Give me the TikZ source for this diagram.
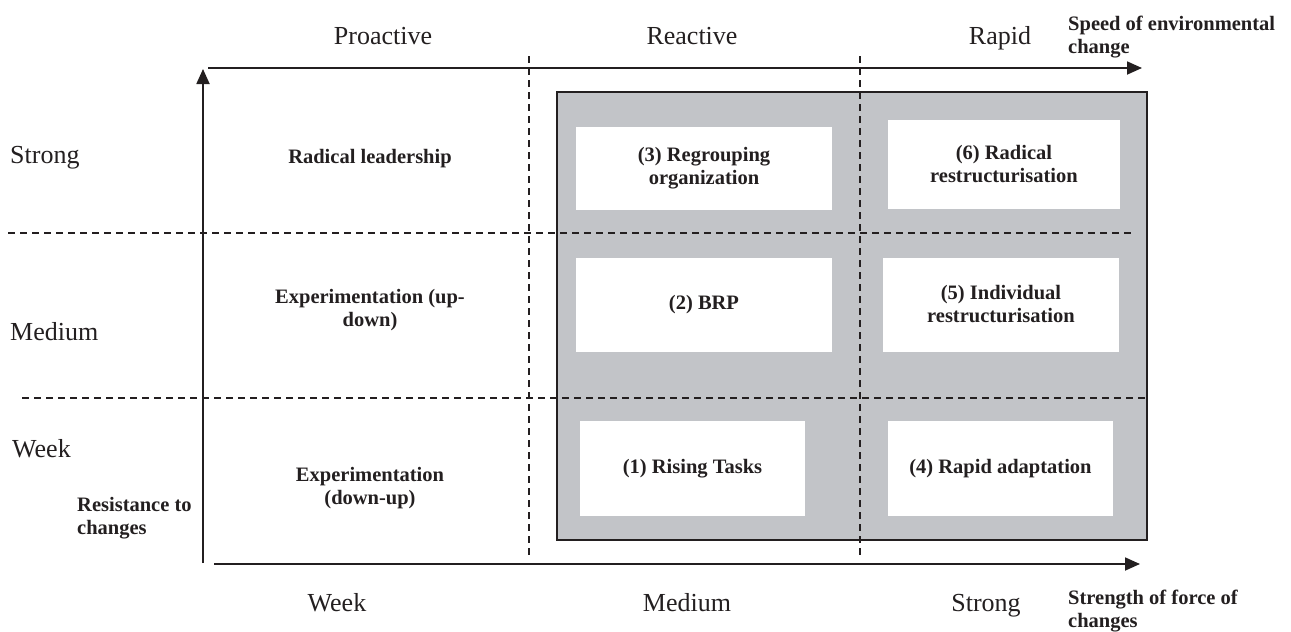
\documentclass[tikz,border=0pt]{standalone}
\usepackage{fontspec}
\setmainfont{Liberation Serif}
\usetikzlibrary{arrows.meta}
\definecolor{panelgray}{RGB}{194,196,200}
\definecolor{ink}{RGB}{35,31,32}
\begin{document}
\begin{tikzpicture}[x=1pt,y=-1pt,
  axisline/.style={draw=ink, line width=1.8pt, -{Triangle[length=15pt,width=13pt]}},
  gridline/.style={draw=ink, line width=1.6pt, dash pattern=on 7pt off 5pt},
  cellbox/.style={fill=white, draw=none, inner sep=0pt, align=center, text=ink,
    font=\bfseries\fontsize{20.5}{23}\selectfont},
  lab/.style={font=\fontsize{26}{30}\selectfont, inner sep=0pt, text=ink},
  bl/.style={font=\bfseries\fontsize{20.5}{23}\selectfont, align=center, inner sep=0pt, text=ink},
]
\useasboundingbox (0,0) rectangle (1291,632);

% grey panel
\node[draw=ink, fill=panelgray, line width=1.5pt, minimum width=590pt, minimum height=448pt, inner sep=0pt] (panel) at (852,316) {};

% white cells
\node[cellbox, minimum width=256pt, minimum height=83pt] (c3) at (704,168.5) {(3) Regrouping\\organization};
\node[cellbox, minimum width=232pt, minimum height=89pt] (c6) at (1004,164.5) {(6) Radical\\restructurisation};
\node[cellbox, minimum width=256pt, minimum height=94pt] (c2) at (704,304.5) {(2) BRP};
\node[cellbox, minimum width=236pt, minimum height=94pt] (c5) at (1001,304.5) {(5) Individual\\restructurisation};
\node[cellbox, minimum width=225pt, minimum height=95pt] (c1) at (692.5,468.5) {(1) Rising Tasks};
\node[cellbox, minimum width=225pt, minimum height=95pt] (c4) at (1000.5,468.5) {(4) Rapid adaptation};

% dashed grid
\coordinate (v1t) at (529,56);  \coordinate (v1b) at (529,557);
\coordinate (v2t) at (860,56);  \coordinate (v2b) at (860,557);
\coordinate (h1l) at (8,233);   \coordinate (h1r) at (1133,233);
\coordinate (h2l) at (22,398);  \coordinate (h2r) at (1145,398);
\draw[gridline] (v1t) -- (v1b);
\draw[gridline] (v2t) -- (v2b);
\draw[gridline] (h1l) -- (h1r);
\draw[gridline] (h2l) -- (h2r);

% axes
\coordinate (yb) at (203,563); \coordinate (yt) at (203,69);
\coordinate (tl) at (208,68);  \coordinate (tr) at (1142,68);
\coordinate (bl) at (214,564); \coordinate (br) at (1140,564);
\draw[axisline] (yb) -- (yt);
\draw[axisline] (tl) -- (tr);
\draw[axisline] (bl) -- (br);

% top labels
\node[lab, anchor=base] (pro) at (383,44) {Proactive};
\node[lab, anchor=base] (rea) at (692,44) {Reactive};
\node[lab, anchor=base] (rap) at (1000,44) {Rapid};
\node[bl, align=left, anchor=north west] (speed) at (1068,16) {Speed of environmental\\change};

% left labels
\node[lab, anchor=base west] (ls) at (10,163) {Strong};
\node[lab, anchor=base west] (lm) at (10,340) {Medium};
\node[lab, anchor=base west] (lw) at (12,457) {Week};
\node[bl, align=left, anchor=north west] (resist) at (77,497) {Resistance to\\changes};

% left column cells
\node[bl, anchor=base] (rl) at (370,163) {Radical leadership};
\node[bl, anchor=north] (eud) at (370,289) {Experimentation (up-\\down)};
\node[bl, anchor=north] (edu) at (370,467) {Experimentation\\(down-up)};

% bottom labels
\node[lab, anchor=base] (bw) at (337,611) {Week};
\node[lab, anchor=base] (bm) at (687,611) {Medium};
\node[lab, anchor=base] (bs) at (986,611) {Strong};
\node[bl, align=left, anchor=north west] (force) at (1068,590) {Strength of force of\\changes};
\end{tikzpicture}
\end{document}
